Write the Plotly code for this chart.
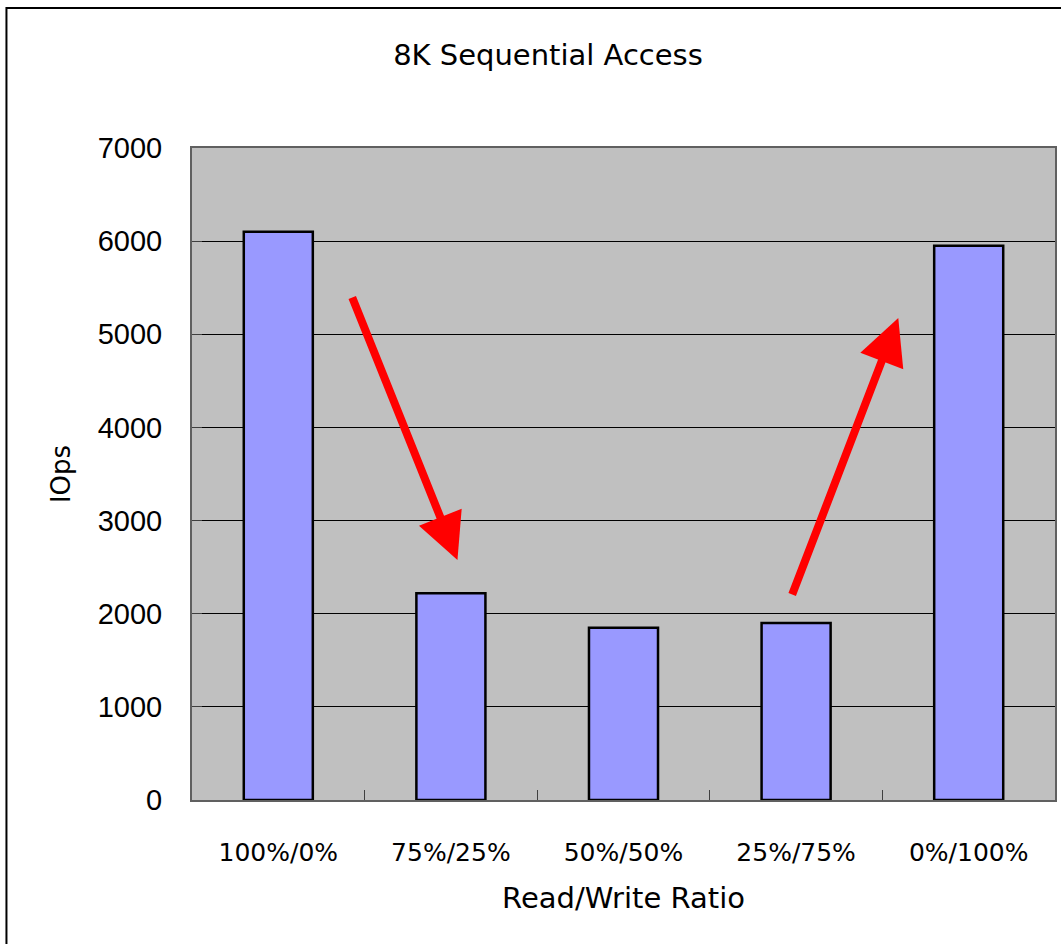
import plotly.graph_objects as go

categories = ["100%/0%", "75%/25%", "50%/50%", "25%/75%", "0%/100%"]
iops = [6100, 2220, 1850, 1900, 5950]
y_ticks = [0, 1000, 2000, 3000, 4000, 5000, 6000, 7000]

# arrows (tail -> head) in data coordinates (category index, IOps)
arrow_tail_x = [0.425, 2.974]
arrow_tail_y = [5410, 2190]
arrow_head_x = [1.038, 3.592]
arrow_head_y = [2577, 5175]

fig = go.Figure()
fig.add_trace(go.Bar(
    x=categories, y=iops,
    marker=dict(color="#9999ff", line=dict(color="black", width=2.5)),
    showlegend=False,
))

for tx, ty, hx, hy in zip(arrow_tail_x, arrow_tail_y, arrow_head_x, arrow_head_y):
    fig.add_annotation(
        x=hx, y=hy, ax=tx, ay=ty, xref="x", yref="y", axref="x", ayref="y",
        text="", showarrow=True, arrowhead=2, arrowsize=1.15, arrowwidth=8,
        arrowcolor="#ff0000", standoff=0,
    )

# outer chart border
fig.add_shape(type="rect", xref="paper", yref="paper",
              x0=-0.2150, x1=1.02, y0=-0.25, y1=1.2147,
              line=dict(color="black", width=2), fillcolor="rgba(0,0,0,0)", layer="below")

fig.update_layout(
    width=1061, height=944,
    margin=dict(l=192, r=4, t=148, b=144),
    paper_bgcolor="white",
    plot_bgcolor="#c0c0c0",
    bargap=0.6,
    title=dict(text="8K Sequential Access", x=548/1061, xref="container", xanchor="center",
               y=1 - 55/944, yref="container", yanchor="middle",
               font=dict(family="DejaVu Sans", size=29, color="black")),
    font=dict(family="DejaVu Sans", color="black"),
)

fig.update_xaxes(
    type="category",
    tickfont=dict(family="DejaVu Sans", size=25, color="black"),
    ticks="inside", ticklen=10, tickwidth=1, tickcolor="#404040",
    tickson="boundaries",
    ticklabelstandoff=29,
    showline=True, linecolor="#606060", linewidth=2, mirror=True,
    showgrid=False,
    title=dict(text="Read/Write Ratio", font=dict(family="DejaVu Sans", size=29, color="black"),
               standoff=22),
)
fig.update_yaxes(
    range=[0, 7000], tickvals=y_ticks,
    tickfont=dict(family="Liberation Sans", size=29, color="black"),
    ticks="inside", ticklen=10, tickwidth=1, tickcolor="#404040",
    ticklabelstandoff=22,
    showline=True, linecolor="#606060", linewidth=2, mirror=True,
    showgrid=True, gridcolor="black", gridwidth=1,
    zeroline=False,
    title=dict(text="IOps", font=dict(family="DejaVu Sans", size=26, color="black"),
               standoff=20),
)

fig.write_html("out.html")
